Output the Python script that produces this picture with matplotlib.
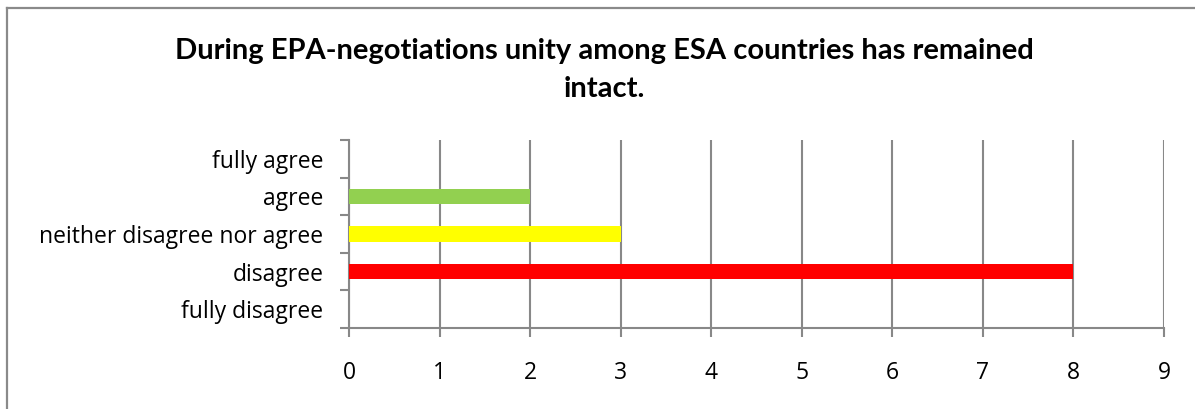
import matplotlib
matplotlib.use("Agg")
import matplotlib.pyplot as plt
from matplotlib.lines import Line2D

categories = ["fully disagree", "disagree", "neither disagree nor agree", "agree", "fully agree"]
values = [0, 8, 3, 2, 0]
colors = ["#FF0000", "#FF0000", "#FFFF00", "#92D050", "#92D050"]
xticks = list(range(0, 10))
title_lines = ["During EPA-negotiations unity among ESA countries has remained", "intact."]

W, H = 1195, 409
plt.rcParams['font.family'] = ['Lato', 'DejaVu Sans']
fig = plt.figure(figsize=(W / 100, H / 100), dpi=100)

# chart-area border (only top and left visible in the reference crop)
bc = "#8A8A8A"
fig.add_artist(Line2D([7 / W, 7 / W], [0, 1 - 8 / H], transform=fig.transFigure, color=bc, linewidth=1.6))
fig.add_artist(Line2D([7 / W, 1], [1 - 8 / H, 1 - 8 / H], transform=fig.transFigure, color=bc, linewidth=1.6))

ax = fig.add_axes([349 / W, (H - 328) / H, (1164 - 349) / W, (328 - 140) / H])
ypos = list(range(len(categories)))
ax.barh(ypos, values, height=0.42, color=colors, zorder=3)
ax.set_xlim(0, 9)
ax.set_ylim(-0.5, len(categories) - 0.5)
ax.set_xticks(xticks)
ax.set_xticklabels([str(t) for t in xticks], fontsize=16.5, family=['Open Sans', 'DejaVu Sans'])
ax.set_yticks(ypos)
ax.set_yticklabels(categories, fontsize=16.5, family=['Open Sans', 'DejaVu Sans'])
ax.set_yticks([y - 0.5 for y in ypos] + [len(categories) - 0.5], minor=True)
gc = "#888888"
ax.tick_params(axis='y', which='major', length=0, pad=18.5)
ax.tick_params(axis='y', which='minor', length=6.5, width=1.5, color=gc, direction='out')
ax.tick_params(axis='x', length=6.5, width=1.5, color=gc, direction='out', pad=17)
ax.xaxis.grid(True, color=gc, linewidth=1.5, zorder=0)
for s in ["top", "right"]:
    ax.spines[s].set_visible(False)
for s in ["left", "bottom"]:
    ax.spines[s].set_color(gc)
    ax.spines[s].set_linewidth(1.5)

fig.text(604 / W, 1 - 59 / H, title_lines[0], ha='center', va='baseline', fontsize=21, fontweight='bold')
fig.text(604 / W, 1 - 97 / H, title_lines[1], ha='center', va='baseline', fontsize=21, fontweight='bold')
fig.savefig("out.png", dpi=100)
